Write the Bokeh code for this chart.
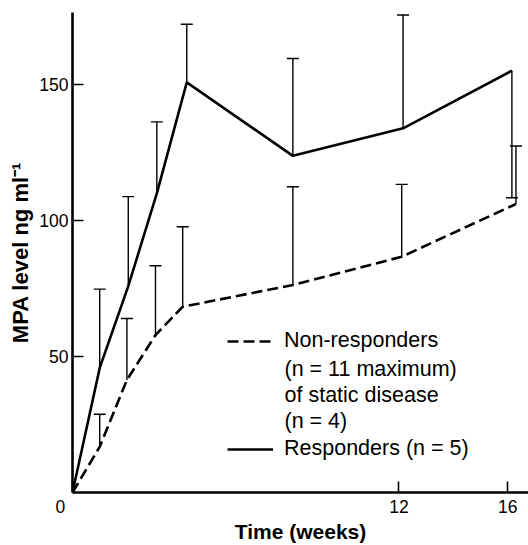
import math
from bokeh.plotting import figure
from bokeh.models import (ColumnDataSource, Whisker, TeeHead, Label, Legend,
                          LegendItem, FixedTicker)
from bokeh.embed import file_html
from bokeh.resources import INLINE

# ---- data ----
resp_weeks = [0, 1, 2.05, 3.1, 4.2, 8.1, 12.15, 16.15]
resp_mpa = [0, 45.8, 75.9, 110.0, 150.8, 123.8, 133.9, 155.1]
resp_bar_end = [None, 74.8, 108.8, 136.3, 172.2, 159.6, 175.6, 108.4]

non_weeks = [0, 1, 2, 3.05, 4.05, 8.1, 12.1, 16.3]
non_mpa = [0, 16.8, 41.4, 57.9, 68.3, 76.3, 86.7, 106.1]
non_bar_end = [None, 28.8, 64.0, 83.4, 97.7, 112.4, 113.3, 127.4]

x_ticks = [0, 12, 16]
y_ticks = [50, 100, 150]

x_title = "Time (weeks)"
y_title = "MPA level ng ml\u207b\u00b9"
non_label = "Non-responders"
non_label_extra = "(n = 11 maximum)\nof static disease\n(n = 4)"
resp_label = "Responders (n = 5)"

FONT = "Liberation Sans"

p = figure(width=528, height=545, x_range=(0, 16.76), y_range=(0, 176.5),
           output_backend="svg", toolbar_location=None,
           min_border_left=72, min_border_right=0, min_border_top=12,
           min_border_bottom=53)
p.outline_line_color = None
p.grid.visible = False
p.background_fill_color = "white"
p.border_fill_color = "white"

src_r = ColumnDataSource(dict(x=resp_weeks, y=resp_mpa))
src_n = ColumnDataSource(dict(x=non_weeks, y=non_mpa))

r_resp = p.line("x", "y", source=src_r, line_color="black", line_width=2.6)
r_non = p.line("x", "y", source=src_n, line_color="black", line_width=2.6,
               line_dash="11 5")

def bars(weeks, mpa, ends):
    xs, lo, hi = [], [], []
    for w, m, e in zip(weeks, mpa, ends):
        if e is None:
            continue
        xs.append(w); lo.append(m); hi.append(e)
    return ColumnDataSource(dict(base=xs, lower=lo, upper=hi))

for src in (bars(resp_weeks, resp_mpa, resp_bar_end),
            bars(non_weeks, non_mpa, non_bar_end)):
    w = Whisker(source=src, base="base", lower="lower", upper="upper",
                dimension="height", line_color="black", line_width=1.4,
                lower_head=None,
                upper_head=TeeHead(size=12, line_width=1.4, line_color="black"))
    p.add_layout(w)

for ax in (p.xaxis[0], p.yaxis[0]):
    ax.axis_line_width = 2.6
    ax.axis_line_color = "black"
    ax.major_tick_in = 11
    ax.major_tick_out = 0
    ax.major_tick_line_width = 1.6
    ax.major_tick_line_color = "black"
    ax.minor_tick_line_color = None
    ax.major_label_text_font = FONT
    ax.major_label_text_font_size = "17.5px"
    ax.major_label_text_color = "black"
    ax.axis_label_text_font = FONT
    ax.axis_label_text_font_style = "bold"
    ax.axis_label_text_color = "black"

p.xaxis.ticker = FixedTicker(ticks=x_ticks)
p.yaxis.ticker = FixedTicker(ticks=y_ticks)
# the shared origin "0" sits left of the corner: pad it with no-break spaces
p.xaxis.major_label_overrides = {0: "0" + "\u00a0" * 5}
p.xaxis.major_label_standoff = 4
p.yaxis.major_label_standoff = 4

p.xaxis.axis_label = x_title
p.xaxis.axis_label_text_font_size = "21px"
p.xaxis.axis_label_standoff = 0
p.yaxis.axis_label = y_title
p.yaxis.axis_label_text_font_size = "22px"
p.yaxis.axis_label_standoff = 3

legend = Legend(items=[
    LegendItem(label=non_label, renderers=[r_non]),
    LegendItem(label=resp_label, renderers=[r_resp]),
], location=(155, 31), orientation="vertical")
legend.border_line_color = None
legend.background_fill_alpha = 0
legend.padding = 0
legend.margin = 0
legend.spacing = 83
legend.glyph_width = 46
legend.glyph_height = 24
legend.label_standoff = 11
legend.label_text_font = FONT
legend.label_text_font_size = "21.5px"
legend.label_text_color = "black"
legend.label_height = 24
p.add_layout(legend)

p.add_layout(Label(x=212, y=136, x_units="screen", y_units="screen",
                   text=non_label_extra, text_font=FONT,
                   text_font_size="21.5px", text_line_height=1.1,
                   text_align="left", text_baseline="top", text_color="black"))

open("out.html", "w").write(file_html(p, INLINE))
